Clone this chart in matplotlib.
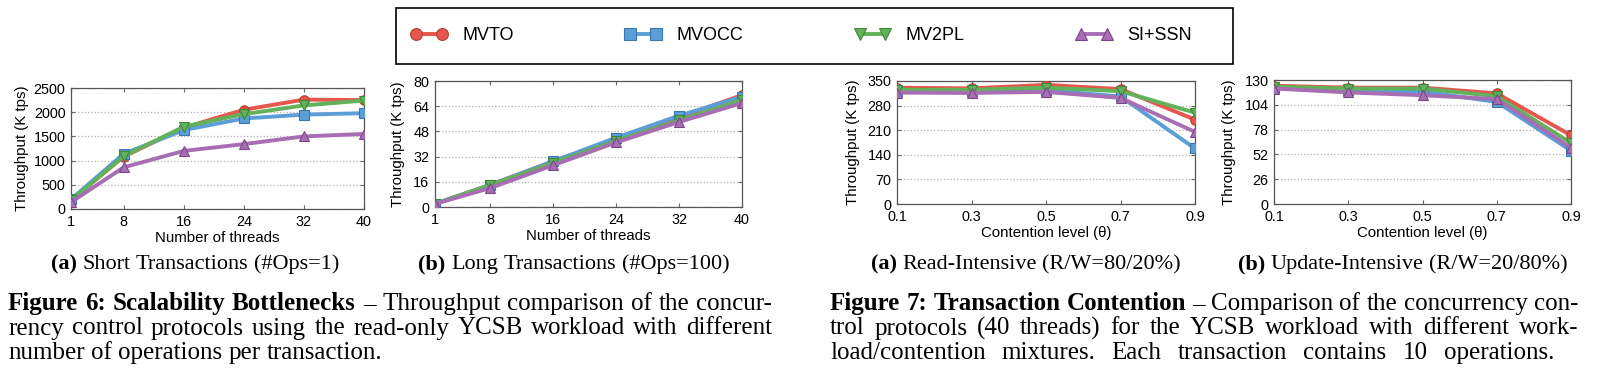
import matplotlib
matplotlib.use('Agg')
import matplotlib.pyplot as plt
from matplotlib.lines import Line2D
from matplotlib.patches import Rectangle

W, H = 1600, 378
DPI = 100

protocols = ['MVTO', 'MVOCC', 'MV2PL', 'SI+SSN']
colors = ['#e5574c', '#5b9ed8', '#62b15b', '#a86eb3']
edge_colors = ['#b53a30', '#3b76ad', '#3e8838', '#7a478a']
markers = ['o', 's', 'v', '^']

threads = [1, 8, 16, 24, 32, 40]
theta = [0.1, 0.3, 0.5, 0.7, 0.9]

# Figure 6a: short transactions (K tps)
short_mvto = [180, 1080, 1680, 2050, 2260, 2250]
short_mvocc = [200, 1140, 1630, 1870, 1950, 1980]
short_mv2pl = [180, 1090, 1700, 1960, 2140, 2240]
short_ssn = [140, 860, 1200, 1340, 1500, 1550]

# Figure 6b: long transactions (K tps)
long_mvto = [2, 14, 29, 43, 57, 71]
long_mvocc = [2, 14, 29, 44, 58, 70]
long_mv2pl = [2, 14, 28, 42, 55, 68]
long_ssn = [2, 12, 26.5, 41, 54, 66]

# Figure 7a: read-intensive (K tps)
read_mvto = [331, 329, 339, 327, 240]
read_mvocc = [322, 322, 324, 306, 158]
read_mv2pl = [325, 325, 331, 321, 260]
read_ssn = [317, 316, 319, 302, 205]

# Figure 7b: update-intensive (K tps)
upd_mvto = [124, 122, 122, 116, 72]
upd_mvocc = [122, 119, 118, 107, 56]
upd_mv2pl = [123, 121, 121, 113, 64]
upd_ssn = [121, 117, 114, 110, 59]

yticks_short = [0, 500, 1000, 1500, 2000, 2500]
yticks_long = [0, 16, 32, 48, 64, 80]
yticks_read = [0, 70, 140, 210, 280, 350]
yticks_upd = [0, 26, 52, 78, 104, 130]

plt.rcParams['font.family'] = ['Liberation Sans', 'DejaVu Sans']
fig = plt.figure(figsize=(W / DPI, H / DPI), dpi=DPI)


def px_axes(left, top, right, bottom):
    return fig.add_axes([left / W, 1 - bottom / H, (right - left) / W, (bottom - top) / H])


def draw_panel(ax, xs, series, yticks, xticks, xticklabels, xlabel, ylab_off):
    for i, ys in enumerate(series):
        ax.plot(xs, ys, color=colors[i], lw=2.8, marker=markers[i], ms=6.8,
                mfc=colors[i], mec=edge_colors[i], mew=0.8, zorder=3 + i)
    ax.set_xlim(xs[0], xs[-1])
    ax.set_ylim(yticks[0], yticks[-1])
    ax.set_yticks(yticks)
    ax.set_xticks(xticks)
    ax.set_xticklabels(xticklabels)
    ax.yaxis.grid(True, ls=':', color='#b0b0b0', lw=0.9)
    ax.tick_params(direction='in', length=3, color='#666666', labelsize=10.4,
                   top=True, right=True, pad=4)
    for s in ax.spines.values():
        s.set_color('#555555')
        s.set_linewidth(0.9)
    bb = ax.get_position()
    wpx = bb.width * W
    hpx = bb.height * H
    ax.set_ylabel('Throughput (K tps)', fontsize=10.8, va='center')
    ax.yaxis.set_label_coords(-ylab_off / wpx, 0.5)
    ax.set_xlabel(xlabel, fontsize=10.8, va='center')
    ax.xaxis.set_label_coords(0.5, -29 / hpx)


ax1 = px_axes(71, 88, 364, 209)
draw_panel(ax1, threads, [short_mvto, short_mvocc, short_mv2pl, short_ssn],
           yticks_short, threads, [str(t) for t in threads], 'Number of threads', 49)
ax2 = px_axes(435, 81, 742, 207)
draw_panel(ax2, threads, [long_mvto, long_mvocc, long_mv2pl, long_ssn],
           yticks_long, threads, [str(t) for t in threads], 'Number of threads', 37)
ax3 = px_axes(897, 81, 1195, 204)
draw_panel(ax3, theta, [read_mvto, read_mvocc, read_mv2pl, read_ssn],
           yticks_read, theta, [str(t) for t in theta], 'Contention level (θ)', 44)
ax4 = px_axes(1274, 80, 1571, 204)
draw_panel(ax4, theta, [upd_mvto, upd_mvocc, upd_mv2pl, upd_ssn],
           yticks_upd, theta, [str(t) for t in theta], 'Contention level (θ)', 45)

# legend across the top: a plain black box with the entries spread inside
fig.patches.append(Rectangle((396 / W, 1 - 64 / H), (1233 - 396) / W, 56 / H,
                             transform=fig.transFigure, fill=False,
                             edgecolor='black', lw=1.2))
handles = [Line2D([], [], color=colors[i], lw=2.8, marker=markers[i], ms=8.5,
                  mfc=colors[i], mec=edge_colors[i], mew=0.8) for i in range(4)]
fig.legend(handles, protocols, loc='center', ncol=4, mode='expand',
           bbox_to_anchor=(411 / W, 1 - 46 / H, (1192 - 411) / W, 20 / H),
           fontsize=13, numpoints=2, handlelength=2.0, handletextpad=0.85,
           borderpad=0, borderaxespad=0, frameon=False)

# captions, placed word by word so the lines can be justified
renderer = fig.canvas.get_renderer()
SERIF = 'Liberation Serif'


def rich_line(parts, x0, baseline, size, width=None, center=None):
    words = []
    for txt, wt in parts:
        for w in txt.split():
            words.append((w, wt))
    arts = []
    widths = []
    for w, wt in words:
        t = fig.text(0, 1 - baseline / H, w, fontsize=size, fontweight=wt,
                     family=SERIF, va='baseline', ha='left')
        widths.append(t.get_window_extent(renderer).width)
        arts.append(t)
    if width is None:
        gap = size * DPI / 72 * 0.25
        width = sum(widths) + gap * (len(words) - 1)
    else:
        gap = (width - sum(widths)) / max(len(words) - 1, 1)
    if center is not None:
        x0 = center - width / 2
    x = x0
    for t, wd in zip(arts, widths):
        t.set_x(x / W)
        x += wd + gap


SUB = 16
rich_line([('(a)', 'bold'), ('Short Transactions (#Ops=1)', 'normal')], 0, 269, SUB, center=195)
rich_line([('(b)', 'bold'), ('Long Transactions (#Ops=100)', 'normal')], 0, 269, SUB, center=574)
rich_line([('(a)', 'bold'), ('Read-Intensive (R/W=80/20%)', 'normal')], 0, 269, SUB, center=1026)
rich_line([('(b)', 'bold'), ('Update-Intensive (R/W=20/80%)', 'normal')], 0, 269, SUB, center=1403)

CAP = 18
rich_line([('Figure 6: Scalability Bottlenecks', 'bold'),
           ('– Throughput comparison of the concur-', 'normal')], 8, 310, CAP, width=764)
rich_line([('rency control protocols using the read-only YCSB workload with different', 'normal')],
          8, 334.5, CAP, width=764)
rich_line([('number of operations per transaction.', 'normal')], 8, 359, CAP, width=374)

rich_line([('Figure 7: Transaction Contention', 'bold'),
           ('– Comparison of the concurrency con-', 'normal')], 830, 310, CAP, width=748)
rich_line([('trol protocols (40 threads) for the YCSB workload with different work-', 'normal')],
          830, 334.5, CAP, width=748)
rich_line([('load/contention mixtures. Each transaction contains 10 operations.', 'normal')],
          830, 359, CAP, width=724)

fig.savefig('out.png', dpi=DPI)
